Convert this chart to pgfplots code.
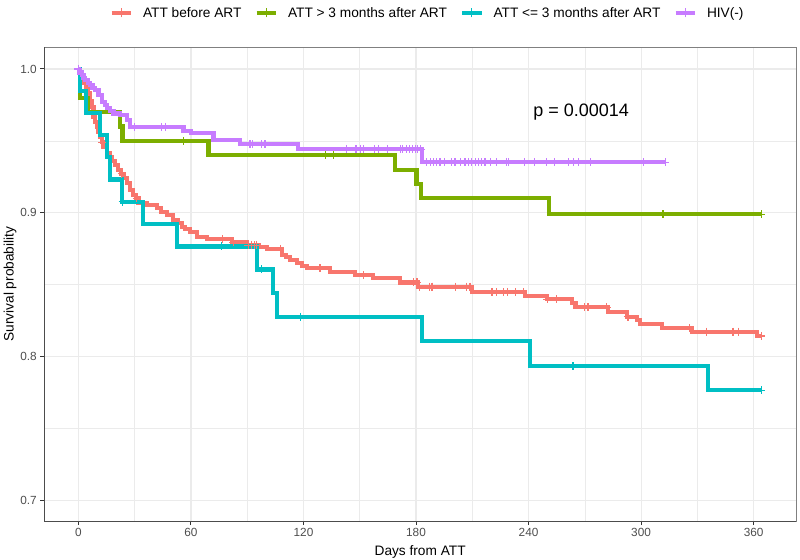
\documentclass[border=0pt]{standalone}
\usepackage{pgfplots}
\pgfplotsset{compat=1.18}
\usepackage{fontspec}
\setmainfont{Liberation Sans}
\definecolor{cred}{HTML}{F8766D}
\definecolor{cgreen}{HTML}{7CAE00}
\definecolor{ccyan}{HTML}{00BFC4}
\definecolor{cpurple}{HTML}{C77CFF}
\definecolor{gridc}{HTML}{EBEBEB}
\definecolor{tickc}{HTML}{4D4D4D}
\begin{document}
\begin{tikzpicture}
\useasboundingbox (0,0) rectangle (800bp,560bp);
\begin{axis}[
  at={(44.3bp,39bp)}, anchor=south west,
  scale only axis, width=751.7bp, height=473.7bp,
  xmin=-18.2, xmax=382.6, ymin=0.6855, ymax=1.0151,
  xtick={0,60,...,360}, minor xtick={30,90,...,330},
  ytick={0.7,0.8,0.9,1.0}, minor ytick={0.75,0.85,0.95},
  yticklabel style={/pgf/number format/.cd, fixed, fixed zerofill, precision=1},
  /pgf/number format/assume math mode=true,
  tick label style={font=\fontsize{11.8bp}{13bp}\selectfont, text=tickc},
  grid=both,
  major grid style={draw=gridc, line width=1.1bp},
  minor grid style={draw=gridc, line width=0.6bp},
  axis line style={draw=black!50, line width=0.8bp},
  tick align=outside, tick pos=left,
  major tick length=4bp, minor tick length=0pt,
  every tick/.style={draw=black!80, line width=1bp},
  xlabel={Days from ATT}, ylabel={Survival probability},
  every axis x label/.style={at={(axis description cs:0.5,-0.0718)}, anchor=base,
     font=\fontsize{13.7bp}{16bp}\selectfont},
  every axis y label/.style={at={(axis description cs:-0.0456,0.5)}, rotate=90, anchor=center,
     font=\fontsize{13.7bp}{16bp}\selectfont},
  legend columns=4,
  legend style={draw=none, fill=none, at={(0.5085,1.0724)}, anchor=center,
    font=\fontsize{13.7bp}{16bp}\selectfont,
    nodes={inner xsep=0pt, inner ysep=2bp},
    /tikz/every odd column/.append style={column sep=10bp},
    /tikz/every even column/.append style={column sep=13bp}},
  legend image code/.code={
    \draw[line width=4bp] (0bp,0bp) -- (19.5bp,0bp);
    \draw[line width=1.2bp] (9.75bp,-4.5bp) -- (9.75bp,4.5bp);},
  clip=false,
]
% ---- lines ----
\addplot[cred, line width=4.2bp, const plot mark left, mark=none] coordinates {
(0,1.0) (1,0.995) (3,0.99) (4,0.9865) (5.3,0.983) (6.2,0.978) (7.1,0.9738)
(8.0,0.9668) (9,0.963) (9.8,0.9598) (10.7,0.956) (11.6,0.9529) (12.5,0.949)
(13.3,0.9459) (15.1,0.9413) (16.9,0.939) (18,0.936) (19.6,0.933) (21.3,0.9297)
(22.6,0.927) (24,0.924) (25.8,0.9205) (27.6,0.9158) (29.3,0.9123) (30.6,0.910)
(32,0.9065) (36.5,0.9054) (41.8,0.9031) (44,0.9005) (47.1,0.8984) (50.6,0.8949)
(53,0.8926) (55.1,0.8903) (57,0.8885) (59.5,0.8868) (63.1,0.8833) (68.4,0.8817)
(82,0.8795) (89.8,0.8775) (96,0.876) (100.4,0.8745) (108.4,0.8706) (110.5,0.869)
(112.8,0.8671) (116.4,0.8648) (119,0.863) (121.7,0.8613) (134.2,0.8585)
(147.5,0.8566) (157.2,0.8543) (171.5,0.8515) (181,0.8485) (209.7,0.845)
(238.1,0.8422) (249.7,0.8397) (263,0.837) (265,0.8342) (282.5,0.8311)
(292.3,0.8276) (297.7,0.8253) (299.4,0.8225) (311,0.8196) (327,0.8172)
(361.6,0.8142) (364,0.8142)};
\addlegendentry{ATT before ART}
\addplot[cgreen, line width=4.2bp, const plot mark left, mark=none] coordinates {
(0,1.0) (1,0.98) (5,0.97) (22.2,0.96) (23.5,0.95) (69.3,0.94) (168.8,0.93)
(180.3,0.92) (182.5,0.91) (250.8,0.899) (364,0.899)};
\addlegendentry{ATT > 3 months after ART}
\addplot[ccyan, line width=4.2bp, const plot mark left, mark=none] coordinates {
(0,1.0) (0.9,0.9846) (4,0.9692) (11.6,0.9538) (15.1,0.9385) (16.9,0.9231)
(23.3,0.9077) (34.6,0.892) (52.5,0.8765) (95.1,0.8605) (103.9,0.844)
(105.8,0.8276) (183,0.8107) (240.8,0.7933) (335.7,0.7766) (364,0.7766)};
\addlegendentry{ATT <= 3 months after ART}
\addplot[cpurple, line width=4.2bp, const plot mark left, mark=none] coordinates {
(0,1.0) (0.5,0.9975) (1.8,0.9958) (2.7,0.994) (3.6,0.9923) (5,0.9905)
(6.2,0.9889) (7.5,0.987) (8.9,0.9854) (10.7,0.982) (12.5,0.9773) (14,0.975)
(15.1,0.9726) (16.9,0.9705) (18.7,0.969) (22.2,0.968) (25.8,0.9645)
(27.6,0.9598) (56,0.957) (60,0.9553) (72,0.9506) (86.2,0.9476) (117,0.9441)
(183.3,0.9351) (313,0.9351)};
\addlegendentry{HIV(-)}
% ---- censor marks ----
\addplot[cred, only marks, mark=+, mark size=4bp, mark options={line width=1.1bp}, forget plot] coordinates {
(0,1.0) (12.8,0.949) (23.1,0.927) (31,0.910) (77,0.8817) (82.5,0.8795)
(90.5,0.8775) (92.5,0.8775) (94,0.8775) (95,0.8775) (107.5,0.8745)
(128.8,0.8613) (151.8,0.8566) (178.5,0.8515) (180.5,0.8515)
(182,0.8485) (187,0.8485) (188.5,0.8485) (189,0.8485) (201,0.8485)
(207,0.8485) (208.8,0.8485) (220.5,0.845) (223,0.845) (226.5,0.845)
(229,0.845) (233,0.845) (237.2,0.845) (250,0.8397) (255,0.8397)
(270,0.8342) (271.7,0.8342) (281.7,0.8342) (293,0.8276) (326,0.8196)
(335,0.8172) (349,0.8172) (351.7,0.8172) (364,0.8142)};
\addplot[cgreen, only marks, mark=+, mark size=4bp, mark options={line width=1.1bp}, forget plot] coordinates {
(56,0.95) (131.5,0.94) (135.8,0.94) (311.7,0.899) (364,0.899)};
\addplot[ccyan, only marks, mark=+, mark size=4bp, mark options={line width=1.1bp}, forget plot] coordinates {
(23.6,0.9077) (76.4,0.8765) (97.8,0.8605) (118.2,0.8276) (263.7,0.7933) (364,0.7766)};
\addplot[cpurple, only marks, mark=+, mark size=4bp, mark options={line width=1.1bp}, forget plot] coordinates {
(0,1.0) (30,0.9598) (44.4,0.9598) (46.2,0.9598) (91.5,0.9476) (93,0.9476)
(97.8,0.9476) (99.5,0.9476) (143,0.9441) (147.5,0.9441) (148.4,0.9441)
(150.2,0.9441) (152,0.9441) (158,0.9441) (160,0.9441) (165,0.9441)
(171.5,0.9441) (173,0.9441) (175,0.9441) (176.5,0.9441) (178,0.9441)
(179.5,0.9441) (181,0.9441) (182.5,0.9441)
(185.7,0.9351) (187.5,0.9351) (189.2,0.9351) (191,0.9351) (192.8,0.9351)
(195.4,0.9351) (199,0.9351) (200.8,0.9351) (203.5,0.9351) (206.1,0.9351)
(207.9,0.9351) (209.7,0.9351) (211.5,0.9351) (213.2,0.9351) (215,0.9351)
(216.8,0.9351) (219.5,0.9351) (223,0.9351) (228.4,0.9351) (229.2,0.9351)
(238,0.9351) (243.4,0.9351) (249.7,0.9351) (254,0.9351) (261.2,0.9351)
(263.9,0.9351) (266.5,0.9351) (272.8,0.9351) (301.2,0.9351) (313,0.9351)};
\draw[draw=black!70, line width=1bp] (rel axis cs:0,1) -- (rel axis cs:0,0) -- (rel axis cs:1,0);
\node[font=\fontsize{18bp}{20bp}\selectfont, anchor=center] at (axis cs:268,0.9703) {p = 0.00014};
\end{axis}
\end{tikzpicture}
\end{document}
